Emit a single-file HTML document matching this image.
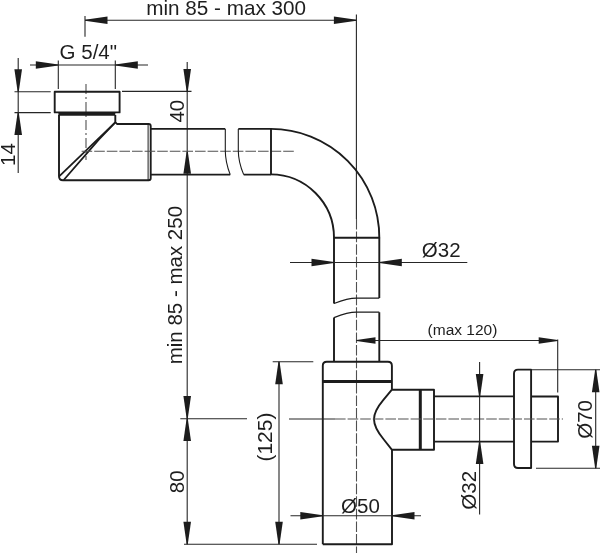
<!DOCTYPE html>
<html><head><meta charset="utf-8"><style>
html,body{margin:0;padding:0;background:#fff;}
svg{display:block;will-change:transform;}
text{font-family:"Liberation Sans",sans-serif;fill:#1e1e1e;}
</style></head><body>
<svg width="600" height="553" viewBox="0 0 600 553">
<line x1="85" y1="20.3" x2="356.4" y2="20.3" stroke="#262626" stroke-width="1.1" />
<polygon points="85.00,19.75 107.50,16.50 107.50,24.10 85.00,20.85" fill="#1c1c1c"/>
<polygon points="356.40,19.75 333.90,16.50 333.90,24.10 356.40,20.85" fill="#1c1c1c"/>
<line x1="85" y1="16" x2="85" y2="36.7" stroke="#262626" stroke-width="1.1" />
<line x1="356.4" y1="14.5" x2="356.4" y2="219" stroke="#262626" stroke-width="1.1" />
<line x1="356.5" y1="219" x2="356.5" y2="553" stroke="#505050" stroke-width="1.1" stroke-dasharray="10.6 2"/>
<text x="146.2" y="15.2" font-size="20.7">min 85 - max 300</text>
<line x1="30" y1="65" x2="148" y2="65" stroke="#262626" stroke-width="1.1" />
<polygon points="58.30,64.45 35.80,61.20 35.80,68.80 58.30,65.55" fill="#1c1c1c"/>
<polygon points="115.30,64.45 137.80,61.20 137.80,68.80 115.30,65.55" fill="#1c1c1c"/>
<line x1="58.3" y1="60.5" x2="58.3" y2="89" stroke="#262626" stroke-width="1.1" />
<line x1="115.3" y1="60.5" x2="115.3" y2="89" stroke="#262626" stroke-width="1.1" />
<text x="59.6" y="59" font-size="20.5">G 5/4"</text>
<line x1="86" y1="84" x2="86" y2="160" stroke="#505050" stroke-width="1.1" stroke-dasharray="10 3 2 3"/>
<line x1="18.2" y1="58" x2="18.2" y2="173" stroke="#262626" stroke-width="1.1" />
<polygon points="17.65,91.70 14.40,69.20 22.00,69.20 18.75,91.70" fill="#1c1c1c"/>
<polygon points="17.65,112.60 14.40,135.10 22.00,135.10 18.75,112.60" fill="#1c1c1c"/>
<line x1="14.5" y1="91.7" x2="50.7" y2="91.7" stroke="#262626" stroke-width="1.1" />
<line x1="14.5" y1="112.6" x2="50.7" y2="112.6" stroke="#262626" stroke-width="1.1" />
<text transform="translate(14.6,166) rotate(-90)" font-size="20.5">14</text>
<path d="M54.7,91.7 H119.6 V112.4 H54.7 Z" stroke="#1c1c1c" stroke-width="1.9" fill="none" stroke-linejoin="round" />
<line x1="58.4" y1="114.1" x2="115.3" y2="114.1" stroke="#1c1c1c" stroke-width="3.2" />
<path d="M59,115 V176.2 Q59,180.2 63,180.2 H148.7 Q150.7,180.2 150.7,178.2 V126 Q150.7,124 148.7,124 H117 L115.3,122 V115" stroke="#1c1c1c" stroke-width="1.9" fill="none" stroke-linejoin="round" />
<line x1="148.1" y1="124" x2="148.1" y2="180.2" stroke="#1c1c1c" stroke-width="1.0" />
<path d="M115.3,122.3 L59.4,176.2" stroke="#1c1c1c" stroke-width="1.8" fill="none" stroke-linejoin="round" />
<path d="M115.3,122.3 L99,139.4 L63.7,180" stroke="#1c1c1c" stroke-width="1.8" fill="none" stroke-linejoin="round" />
<line x1="122" y1="91.4" x2="191.5" y2="91.4" stroke="#262626" stroke-width="1.1" />
<line x1="187.2" y1="62" x2="187.2" y2="544.3" stroke="#262626" stroke-width="1.1" />
<polygon points="186.65,91.40 183.40,68.90 191.00,68.90 187.75,91.40" fill="#1c1c1c"/>
<polygon points="186.65,151.20 183.40,173.70 191.00,173.70 187.75,151.20" fill="#1c1c1c"/>
<text transform="translate(183.8,122.6) rotate(-90)" font-size="20.5">40</text>
<line x1="81.6" y1="151.2" x2="294" y2="151.2" stroke="#505050" stroke-width="1.1" stroke-dasharray="10.6 2"/>
<path d="M151,128.9 H225.3 M230.2,174.6 H151" stroke="#1c1c1c" stroke-width="1.9" fill="none" stroke-linejoin="round" />
<path d="M225.3,128.9 V150.5 Q225.3,162 230.2,174.6" stroke="#1c1c1c" stroke-width="1.1" fill="none" stroke-linejoin="round" />
<path d="M271,128.9 H238.3 M243.7,174.6 H271" stroke="#1c1c1c" stroke-width="1.9" fill="none" stroke-linejoin="round" />
<path d="M238.3,128.9 V150.5 Q238.3,162 243.7,174.6" stroke="#1c1c1c" stroke-width="1.1" fill="none" stroke-linejoin="round" />
<line x1="271" y1="128.9" x2="271" y2="174.6" stroke="#1c1c1c" stroke-width="1.9" />
<path d="M270.8,128.9 A108.5,108.5 0 0 1 379.3,237.8 H334 A63.4,63.4 0 0 0 270.8,174.4" stroke="#1c1c1c" stroke-width="1.9" fill="none" stroke-linejoin="round" />
<path d="M334,237.8 V303.5 M379.3,298.1 V237.8" stroke="#1c1c1c" stroke-width="1.9" fill="none" stroke-linejoin="round" />
<path d="M334,303.5 Q348,298.1 356.4,298.1 H379.3" stroke="#1c1c1c" stroke-width="1.2" fill="none" stroke-linejoin="round" />
<path d="M334,361.5 V317.6 M379.3,312.2 V361.5" stroke="#1c1c1c" stroke-width="1.9" fill="none" stroke-linejoin="round" />
<path d="M334,317.6 Q348,312.2 356.4,312.2 H379.3" stroke="#1c1c1c" stroke-width="1.2" fill="none" stroke-linejoin="round" />
<line x1="290" y1="262.5" x2="467.3" y2="262.5" stroke="#262626" stroke-width="1.1" />
<polygon points="334.00,261.95 311.50,258.70 311.50,266.30 334.00,263.05" fill="#1c1c1c"/>
<polygon points="379.30,261.95 401.80,258.70 401.80,266.30 379.30,263.05" fill="#1c1c1c"/>
<text x="421.8" y="256.7" font-size="20.5">Ø32</text>
<line x1="356.5" y1="340.5" x2="557.7" y2="340.5" stroke="#262626" stroke-width="1.1" />
<polygon points="356.50,339.95 375.50,337.30 375.50,343.70 356.50,341.05" fill="#1c1c1c"/>
<polygon points="557.70,339.95 538.70,337.30 538.70,343.70 557.70,341.05" fill="#1c1c1c"/>
<line x1="557.7" y1="339.5" x2="557.7" y2="392.4" stroke="#262626" stroke-width="1.1" />
<text x="427.6" y="335.3" font-size="15.5">(max 120)</text>
<path d="M322.8,544.3 V365.7 Q322.8,361.7 326.8,361.7 H387.9 Q391.9,361.7 391.9,365.7 V389.7" stroke="#1c1c1c" stroke-width="1.9" fill="none" stroke-linejoin="round" />
<line x1="322.8" y1="381.4" x2="391.9" y2="381.4" stroke="#1c1c1c" stroke-width="3.0" />
<path d="M392,449.8 V544.3 H322.8" stroke="#1c1c1c" stroke-width="1.9" fill="none" stroke-linejoin="round" />
<path d="M391.9,389.7 H434 V449.8 H392 M391.9,389.7 L383.4,399.9 C379.1,405 374,412 374,419.3 C374,426.6 379.1,433.8 383.4,439 L392,449.8" stroke="#1c1c1c" stroke-width="1.9" fill="none" stroke-linejoin="round" />
<line x1="420.3" y1="389.7" x2="420.3" y2="449.8" stroke="#1c1c1c" stroke-width="3.0" />
<path d="M434,396.4 H514 M434,441.6 H514" stroke="#1c1c1c" stroke-width="1.9" fill="none" stroke-linejoin="round" />
<path d="M531.1,369.6 H518 Q514,369.6 514,373.6 V464 Q514,468 518,468 H531.1 Z" stroke="#1c1c1c" stroke-width="1.9" fill="none" stroke-linejoin="round" />
<path d="M531.1,396.5 H558 V441.6 H531.1" stroke="#1c1c1c" stroke-width="1.9" fill="none" stroke-linejoin="round" />
<line x1="180.3" y1="418.8" x2="247" y2="418.8" stroke="#262626" stroke-width="1.1" />
<line x1="289" y1="419" x2="335" y2="419" stroke="#262626" stroke-width="1.1" />
<line x1="335" y1="419" x2="563" y2="419" stroke="#505050" stroke-width="1.1" stroke-dasharray="10.6 2"/>
<line x1="479.6" y1="362" x2="479.6" y2="514.4" stroke="#262626" stroke-width="1.1" />
<polygon points="479.05,396.40 475.80,373.90 483.40,373.90 480.15,396.40" fill="#1c1c1c"/>
<polygon points="479.05,441.60 475.80,464.10 483.40,464.10 480.15,441.60" fill="#1c1c1c"/>
<text transform="translate(475.6,509.7) rotate(-90)" font-size="20.5">Ø32</text>
<line x1="531" y1="369.7" x2="600" y2="369.7" stroke="#262626" stroke-width="1.1" />
<line x1="536" y1="468.3" x2="600" y2="468.3" stroke="#262626" stroke-width="1.1" />
<line x1="595.7" y1="369.7" x2="595.7" y2="468.3" stroke="#262626" stroke-width="1.1" />
<polygon points="595.15,369.70 591.90,392.20 599.50,392.20 596.25,369.70" fill="#1c1c1c"/>
<polygon points="595.15,468.30 591.90,445.80 599.50,445.80 596.25,468.30" fill="#1c1c1c"/>
<text transform="translate(592.3,438.8) rotate(-90)" font-size="20.5">Ø70</text>
<line x1="279" y1="361.7" x2="279" y2="544.3" stroke="#262626" stroke-width="1.1" />
<polygon points="278.45,361.70 275.20,384.20 282.80,384.20 279.55,361.70" fill="#1c1c1c"/>
<polygon points="278.45,544.30 275.20,521.80 282.80,521.80 279.55,544.30" fill="#1c1c1c"/>
<line x1="272.7" y1="361.7" x2="313.3" y2="361.7" stroke="#262626" stroke-width="1.1" />
<line x1="184" y1="544.3" x2="317" y2="544.3" stroke="#262626" stroke-width="1.1" />
<text transform="translate(272,461.6) rotate(-90)" font-size="21">(125)</text>
<line x1="290.5" y1="515.7" x2="421" y2="515.7" stroke="#262626" stroke-width="1.1" />
<polygon points="322.80,515.15 300.30,511.90 300.30,519.50 322.80,516.25" fill="#1c1c1c"/>
<polygon points="392.00,515.15 414.50,511.90 414.50,519.50 392.00,516.25" fill="#1c1c1c"/>
<text x="341.1" y="512.7" font-size="20.5">Ø50</text>
<polygon points="186.65,418.50 183.40,396.00 191.00,396.00 187.75,418.50" fill="#1c1c1c"/>
<polygon points="186.65,418.50 183.40,441.00 191.00,441.00 187.75,418.50" fill="#1c1c1c"/>
<polygon points="186.65,544.30 183.40,521.80 191.00,521.80 187.75,544.30" fill="#1c1c1c"/>
<text transform="translate(184.0,493.2) rotate(-90)" font-size="20.5">80</text>
<text transform="translate(181.8,364.3) rotate(-90)" font-size="20.5">min 85 - max 250</text>
</svg>
</body></html>
